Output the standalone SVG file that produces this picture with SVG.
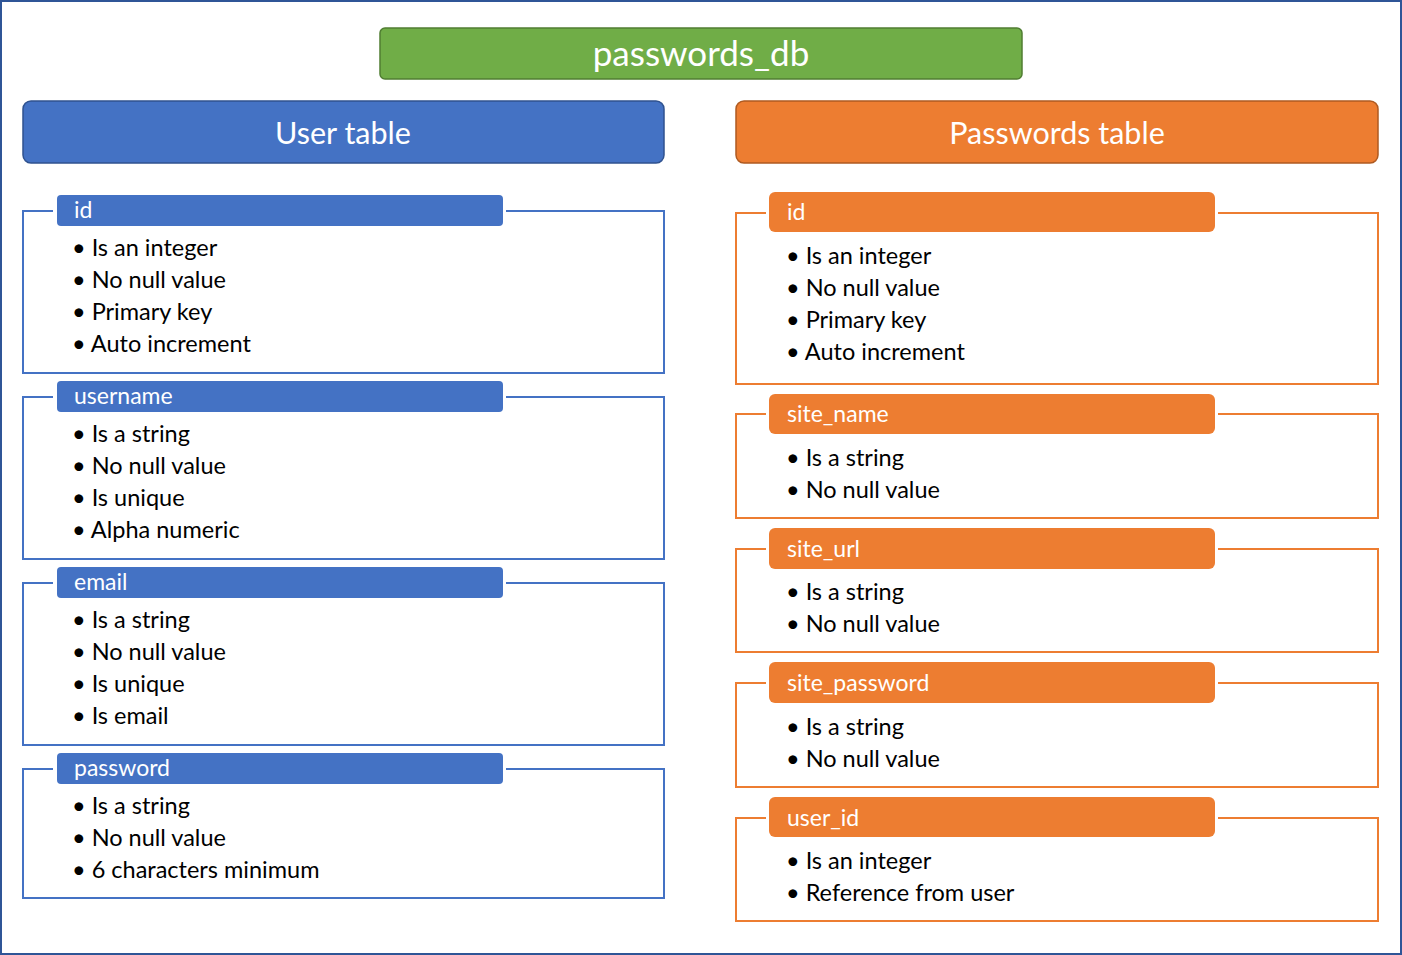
<svg xmlns="http://www.w3.org/2000/svg" width="1402" height="955" viewBox="0 0 1402 955">
<style>
text{font-family:Lato,"Open Sans","Liberation Sans",sans-serif}
.t{fill:#fff;text-anchor:middle;font-size:35px}
.h{fill:#fff;font-size:23px}
.b{fill:#000;font-size:23.5px}
.fb{fill:none;stroke:#4472C4;stroke-width:2}
.fo{fill:none;stroke:#ED7D31;stroke-width:2}
.hb{fill:#4472C4}
.ho{fill:#ED7D31}
</style>
<rect x="1" y="1" width="1400" height="953" fill="#fff" stroke="#2F5597" stroke-width="2"/>
<g id="db">
<rect x="380" y="28" width="642" height="51" rx="5" fill="#70AD47" stroke="#507E32" stroke-width="1.5"/>
<text class="t" x="701" y="66">passwords_db</text>
</g>
<g id="user-table">
<rect x="23" y="101" width="641" height="62" rx="8" fill="#4472C4" stroke="#2F528F" stroke-width="1.5"/>
<text class="t" x="343" y="144" style="font-size:30.5px">User table</text>
</g>
<g id="passwords-table">
<rect x="736" y="101" width="642" height="62" rx="8" fill="#ED7D31" stroke="#AE5A21" stroke-width="1.5"/>
<text class="t" x="1057" y="144" style="font-size:30.5px">Passwords table</text>
</g>
<g id="u-id">
<path class="fb" d="M53 211H23V373H664V211H506"/>
<rect class="hb" x="57" y="195" width="446" height="31" rx="4"/>
<text class="h" x="74" y="218">id</text>
<text class="b" x="72" y="256">• Is an integer</text>
<text class="b" x="72" y="288">• No null value</text>
<text class="b" x="72" y="320">• Primary key</text>
<text class="b" x="72" y="352">• Auto increment</text>
</g>
<g id="u-username">
<path class="fb" d="M53 397H23V559H664V397H506"/>
<rect class="hb" x="57" y="381" width="446" height="31" rx="4"/>
<text class="h" x="74" y="404">username</text>
<text class="b" x="72" y="442">• Is a string</text>
<text class="b" x="72" y="474">• No null value</text>
<text class="b" x="72" y="506">• Is unique</text>
<text class="b" x="72" y="538">• Alpha numeric</text>
</g>
<g id="u-email">
<path class="fb" d="M53 583H23V745H664V583H506"/>
<rect class="hb" x="57" y="567" width="446" height="31" rx="4"/>
<text class="h" x="74" y="590">email</text>
<text class="b" x="72" y="628">• Is a string</text>
<text class="b" x="72" y="660">• No null value</text>
<text class="b" x="72" y="692">• Is unique</text>
<text class="b" x="72" y="724">• Is email</text>
</g>
<g id="u-password">
<path class="fb" d="M53 769H23V898H664V769H506"/>
<rect class="hb" x="57" y="753" width="446" height="31" rx="4"/>
<text class="h" x="74" y="776">password</text>
<text class="b" x="72" y="814">• Is a string</text>
<text class="b" x="72" y="846">• No null value</text>
<text class="b" x="72" y="878">• 6 characters minimum</text>
</g>
<g id="p-id">
<path class="fo" d="M766 213H736V384H1378V213H1218"/>
<rect class="ho" x="769" y="192" width="446" height="40" rx="6"/>
<text class="h" x="787" y="220">id</text>
<text class="b" x="786" y="264">• Is an integer</text>
<text class="b" x="786" y="296">• No null value</text>
<text class="b" x="786" y="328">• Primary key</text>
<text class="b" x="786" y="360">• Auto increment</text>
</g>
<g id="p-site-name">
<path class="fo" d="M766 414H736V518H1378V414H1218"/>
<rect class="ho" x="769" y="394" width="446" height="40" rx="6"/>
<text class="h" x="787" y="422">site_name</text>
<text class="b" x="786" y="466">• Is a string</text>
<text class="b" x="786" y="498">• No null value</text>
</g>
<g id="p-site-url">
<path class="fo" d="M766 549H736V652H1378V549H1218"/>
<rect class="ho" x="769" y="528" width="446" height="41" rx="6"/>
<text class="h" x="787" y="557">site_url</text>
<text class="b" x="786" y="600">• Is a string</text>
<text class="b" x="786" y="632">• No null value</text>
</g>
<g id="p-site-password">
<path class="fo" d="M766 683H736V787H1378V683H1218"/>
<rect class="ho" x="769" y="662" width="446" height="41" rx="6"/>
<text class="h" x="787" y="691">site_password</text>
<text class="b" x="786" y="735">• Is a string</text>
<text class="b" x="786" y="767">• No null value</text>
</g>
<g id="p-user-id">
<path class="fo" d="M766 818H736V921H1378V818H1218"/>
<rect class="ho" x="769" y="797" width="446" height="40" rx="6"/>
<text class="h" x="787" y="826">user_id</text>
<text class="b" x="786" y="869">• Is an integer</text>
<text class="b" x="786" y="901">• Reference from user</text>
</g>
<g id="connectors"/>
</svg>
